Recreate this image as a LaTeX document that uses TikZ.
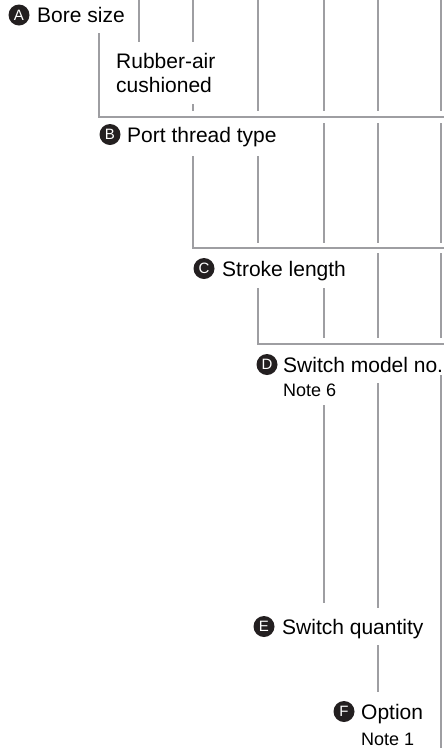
\documentclass[tikz,border=0pt]{standalone}
\usepackage{fontspec}
\setmainfont{Liberation Sans}
\usetikzlibrary{positioning}

\definecolor{linegray}{RGB}{158,158,162}
\definecolor{badgeblack}{RGB}{35,31,32}
\tikzset{
  rule/.style={draw=linegray, line width=2.6pt},
  lbl/.style={anchor=base west, inner sep=0pt, font=\fontsize{21}{24}\selectfont},
  note/.style={anchor=base west, inner sep=0pt, font=\fontsize{18}{20}\selectfont},
  badge/.style={circle, fill=badgeblack, text=white, minimum size=21pt, inner sep=0pt, font=\fontsize{15}{15}\selectfont}
}

\begin{document}
\begin{tikzpicture}[x=1pt, y=-1pt]
        \useasboundingbox (0,0) rectangle (444,748);

        % labels
        \node[lbl] (bore) at (37,22.5) {Bore size};
        \node[badge] (ba) at ([xshift=-18pt,yshift=7.5pt]bore.base west) {A};
        \node[lbl, align=left] (cush) at (116,92) {Rubber-air\\cushioned};
        \node[lbl] (port) at (127,142) {Port thread type};
        \node[badge] (bb) at ([xshift=-17pt,yshift=7.5pt]port.base west) {B};
        \node[lbl] (stroke) at (222,276) {Stroke length};
        \node[badge] (bc) at ([xshift=-18pt,yshift=7.5pt]stroke.base west) {C};
        \node[lbl] (sw) at (283,372) {Switch model no.};
        \node[badge] (bd) at ([xshift=-16pt,yshift=7.5pt]sw.base west) {D};
        \node[note] (n6) at (283,396) {Note 6};
        \node[lbl] (qty) at (282,634) {Switch quantity};
        \node[badge] (be) at ([xshift=-18pt,yshift=7.5pt]qty.base west) {E};
        \node[lbl] (opt) at (361,719) {Option};
        \node[badge] (bf) at ([xshift=-17pt,yshift=7.5pt]opt.base west) {F};
        \node[note] (n1) at (361,745) {Note 1};

        % row A
        \foreach \x in {258,324,378,441} \draw[rule] (\x,0) -- (\x,111);
        \draw[rule] (139,0) -- (139,42);
        \draw[rule] (193,0) -- (193,42);
        \draw[rule] (193,104) -- (193,111);
        \draw[rule] (99,33) -- (99,117) -- (444,117);

        % row B
        \foreach \x in {324,378,441} \draw[rule] (\x,123) -- (\x,243);
        \draw[rule] (258,156) -- (258,243);
        \draw[rule] (193,156) -- (193,248) -- (444,248);

        % row C
        \foreach \x in {378,441} \draw[rule] (\x,253) -- (\x,338);
        \draw[rule] (324,288) -- (324,338);
        \draw[rule] (258,288) -- (258,344) -- (444,344);

        % rows D to F
        \draw[rule] (441,375) -- (441,748);
        \draw[rule] (378,383) -- (378,608);
        \draw[rule] (324,405) -- (324,603);
        \draw[rule] (378,645) -- (378,692);
    \end{tikzpicture}
\end{document}
